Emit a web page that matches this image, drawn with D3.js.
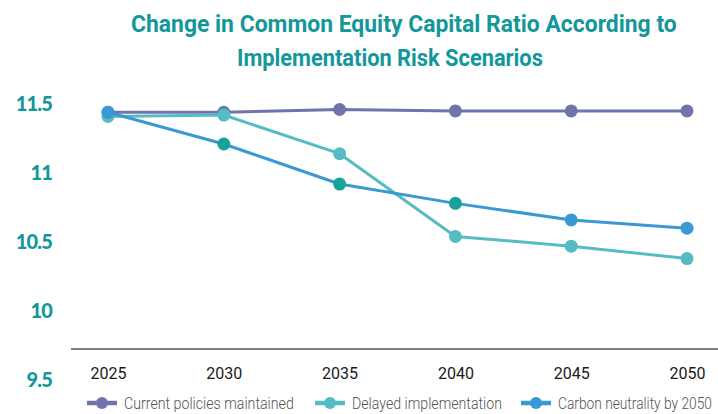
<!DOCTYPE html>
<html>
<head>
<meta charset="utf-8">
<script src="https://cdn.jsdelivr.net/npm/d3@7"></script>
<style>
  html, body { margin: 0; padding: 0; background: #ffffff; }
  svg { display: block; }
</style>
</head>
<body>
<svg id="chart" width="718" height="414"></svg>
<script>
// Scenario data: common equity capital ratio (%) by year
const years = ["2025", "2030", "2035", "2040", "2045", "2050"];
const currentPolicies = [11.44, 11.44, 11.46, 11.45, 11.45, 11.45];
const delayedImplementation = [11.41, 11.42, 11.14, 10.54, 10.47, 10.38];
const carbonNeutrality = [11.44, 11.21, 10.92, 10.78, 10.66, 10.60];
const seriesNames = ["Current policies maintained", "Delayed implementation", "Carbon neutrality by 2050"];
const yTicks = [9.5, 10, 10.5, 11, 11.5];
const yTickLabels = ["9.5", "10", "10.5", "11", "11.5"];
const titleLines = ["Change in Common Equity Capital Ratio According to", "Implementation Risk Scenarios"];

// Styling
const colors = ["#6f74ad", "#55bcc4", "#3a98d2"];
const carbonMarkerColors = ["#3a98d2", "#17a39b", "#17a39b", "#17a39b", "#3a98d2", "#3a98d2"];
const teal = "#13979a";
const condensed = "Roboto, 'DejaVu Sans Condensed', sans-serif";

const series = [
  { name: seriesNames[0], values: currentPolicies, color: colors[0], markers: years.map(() => colors[0]) },
  { name: seriesNames[1], values: delayedImplementation, color: colors[1], markers: years.map(() => colors[1]) },
  { name: seriesNames[2], values: carbonNeutrality, color: colors[2], markers: carbonMarkerColors }
];

const svg = d3.select("#chart");

const x = d3.scalePoint().domain(years).range([108, 687]);
const y = d3.scaleLinear().domain([9.5, 11.5]).range([380, 104]);
const axisY = 349;

// Narrow a text element horizontally to a given width, anchored at its left edge
function narrowTo(textSel, width) {
  const natural = textSel.node().getComputedTextLength();
  const k = Math.min(1, width / natural);
  textSel.attr("transform", `scale(${k},1)`).attr("x", +textSel.attr("x") / k);
}

// Title, set in a narrowed bold face
const titleLayout = [
  { x: 131, y: 32, width: 546 },
  { x: 237, y: 66, width: 306 }
];
titleLines.forEach((t, i) => {
  const txt = svg.append("text")
    .attr("x", titleLayout[i].x)
    .attr("y", titleLayout[i].y)
    .attr("fill", teal)
    .style("font-family", condensed)
    .style("font-weight", "bold")
    .style("font-size", "24px")
    .text(t);
  narrowTo(txt, titleLayout[i].width);
});

// Y axis labels (no axis line)
const yAxis = d3.axisLeft(y)
  .tickValues(yTicks)
  .tickFormat((d, i) => yTickLabels[i])
  .tickSize(0)
  .tickPadding(0);
const gy = svg.append("g").attr("transform", "translate(52,0)").call(yAxis);
gy.select(".domain").remove();
gy.selectAll("text")
  .attr("fill", teal)
  .style("font-family", "Lato, 'Open Sans', sans-serif")
  .style("font-weight", "900")
  .style("font-size", "20px")
  .style("letter-spacing", "-0.8px");

// X axis
const xAxis = d3.axisBottom(x).tickSize(0).tickPadding(18);
const gx = svg.append("g").attr("transform", `translate(0,${axisY})`).call(xAxis);
gx.select(".domain").remove();
gx.append("line")
  .attr("x1", 71).attr("x2", 718)
  .attr("y1", 0).attr("y2", 0)
  .attr("stroke", "#555555").attr("stroke-width", 1.5);
gx.selectAll(".tick text")
  .attr("fill", "#1a1a1a")
  .attr("textLength", 36)
  .attr("lengthAdjust", "spacingAndGlyphs")
  .style("font-family", condensed)
  .style("font-weight", "400")
  .style("font-size", "17px");

// Lines and markers
const line = d3.line()
  .x((d, i) => x(years[i]))
  .y(d => y(d));

series.forEach(s => {
  const g = svg.append("g");
  g.append("path")
    .datum(s.values)
    .attr("d", line)
    .attr("fill", "none")
    .attr("stroke", s.color)
    .attr("stroke-width", 3)
    .attr("stroke-linejoin", "round");
  g.selectAll("circle")
    .data(s.values)
    .join("circle")
    .attr("cx", (d, i) => x(years[i]))
    .attr("cy", d => y(d))
    .attr("r", 6.5)
    .attr("fill", (d, i) => s.markers[i]);
});

// Legend
const legendX = [87, 315, 521];
const legendTextWidth = [170, 150, 154];
const legend = svg.append("g").attr("transform", "translate(0,403)");
series.forEach((s, i) => {
  const g = legend.append("g").attr("transform", `translate(${legendX[i]},0)`);
  g.append("line")
    .attr("x1", 0).attr("x2", 30).attr("y1", 0).attr("y2", 0)
    .attr("stroke", s.color).attr("stroke-width", 4.5);
  g.append("circle").attr("cx", 15).attr("cy", 0).attr("r", 6).attr("fill", s.color);
  const txt = g.append("text")
    .attr("x", 37).attr("y", 0).attr("dy", "0.35em")
    .attr("fill", "#555555")
    .style("font-family", condensed)
    .style("font-weight", "300")
    .style("font-size", "16px")
    .text(s.name);
  narrowTo(txt, legendTextWidth[i]);
});
</script>
</body>
</html>
